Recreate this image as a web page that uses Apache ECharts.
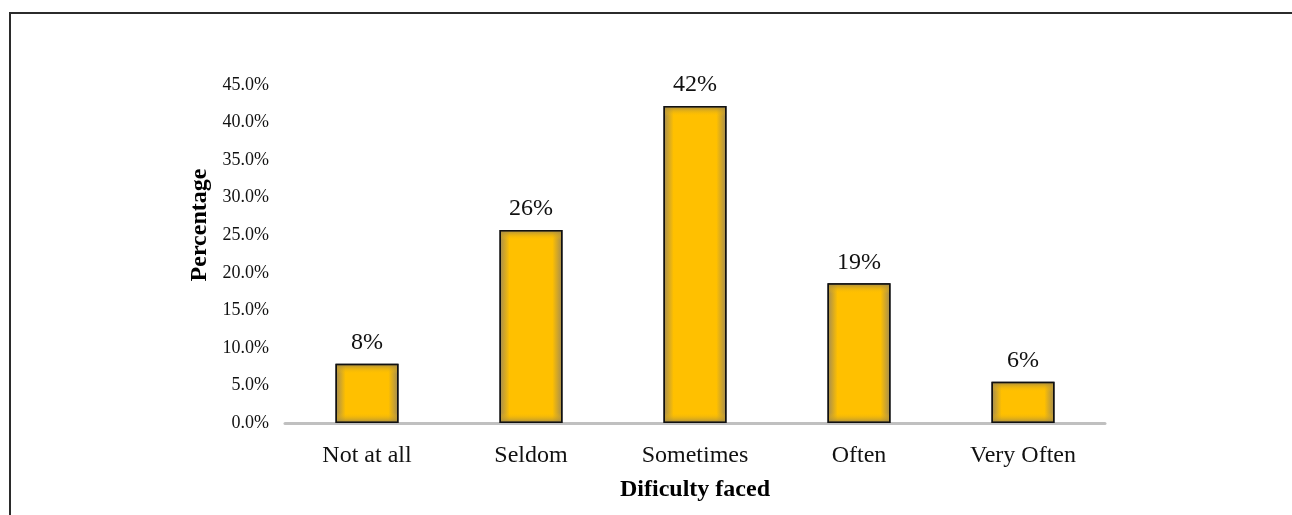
<!DOCTYPE html>
<html>
<head>
<meta charset="utf-8">
<script src="https://cdn.jsdelivr.net/npm/echarts@6/dist/echarts.min.js"></script>
<style>
  html, body { margin: 0; padding: 0; background: #fff; }
  #frame {
    position: absolute; left: 9px; top: 12px; width: 1400px; height: 600px;
    border-left: 2px solid #2b2b2b; border-top: 2px solid #2b2b2b;
  }
  #chart { position: absolute; left: 0; top: 0; width: 1292px; height: 515px; }
</style>
</head>
<body>
<div id="frame"></div>
<div id="chart"></div>
<script>
// 数据
const categories = ["Not at all", "Seldom", "Sometimes", "Often", "Very Often"];
const percentValues = [7.9, 25.7, 42.2, 18.6, 5.5];
const barLabels = ["8%", "26%", "42%", "19%", "6%"];
const yTicks = { min: 0, max: 45, interval: 5 };

const serif = "Liberation Serif";
const edge = "#a08a55";
const gold = "#ffc000";

const chart = echarts.init(document.getElementById("chart"));
chart.setOption({
  animation: false,
  grid: { left: 285, right: 187, top: 85, bottom: 92 },
  xAxis: {
    type: "category",
    data: categories,
    name: "Dificulty faced",
    nameLocation: "middle",
    nameGap: 55,
    nameTextStyle: { fontFamily: serif, fontSize: 24, fontWeight: "bold", color: "#000" },
    axisLine: { lineStyle: { color: "#c0c0c0", width: 3 } },
    axisTick: { show: false },
    axisLabel: { fontFamily: serif, fontSize: 24, color: "#111", margin: 21 },
  },
  yAxis: {
    type: "value",
    min: yTicks.min,
    max: yTicks.max,
    interval: yTicks.interval,
    name: "Percentage",
    nameLocation: "middle",
    nameGap: 72,
    nameRotate: 90,
    nameTextStyle: {
      fontFamily: serif, fontSize: 24, fontWeight: "bold", color: "#000",
      padding: [0, 0, 0, 58],
    },
    splitLine: { show: false },
    axisLine: { show: false },
    axisTick: { show: false },
    axisLabel: {
      fontFamily: serif, fontSize: 18, color: "#111", margin: 16,
      formatter: (v) => v.toFixed(1) + "%",
    },
  },
  series: [
    {
      type: "bar",
      data: percentValues,
      barWidth: 63,
      itemStyle: {
        borderColor: "#111",
        borderWidth: 1.5,
        color: new echarts.graphic.LinearGradient(0, 0, 1, 0, [
          { offset: 0, color: edge },
          { offset: 0.16, color: gold },
          { offset: 0.84, color: gold },
          { offset: 1, color: edge },
        ]),
      },
      label: {
        show: true,
        position: "top",
        distance: 9,
        fontFamily: serif,
        fontSize: 24,
        color: "#111",
        formatter: (p) => barLabels[p.dataIndex],
      },
    },
    {
      // 顶部和底部的暗边
      type: "bar",
      barGap: "-100%",
      barWidth: 63,
      silent: true,
      data: percentValues.map((v) => {
        const h = v * 7.51;
        const f = Math.min(0.4, 10 / h);
        return {
          value: v,
          itemStyle: {
            color: new echarts.graphic.LinearGradient(0, 0, 0, 1, [
              { offset: 0, color: "rgba(150,130,80,0.95)" },
              { offset: f, color: "rgba(255,192,0,0)" },
              { offset: 1 - f, color: "rgba(255,192,0,0)" },
              { offset: 1, color: "rgba(150,130,80,0.95)" },
            ]),
            borderColor: "#111",
            borderWidth: 1.5,
          },
        };
      }),
    },
  ],
});
</script>
</body>
</html>
